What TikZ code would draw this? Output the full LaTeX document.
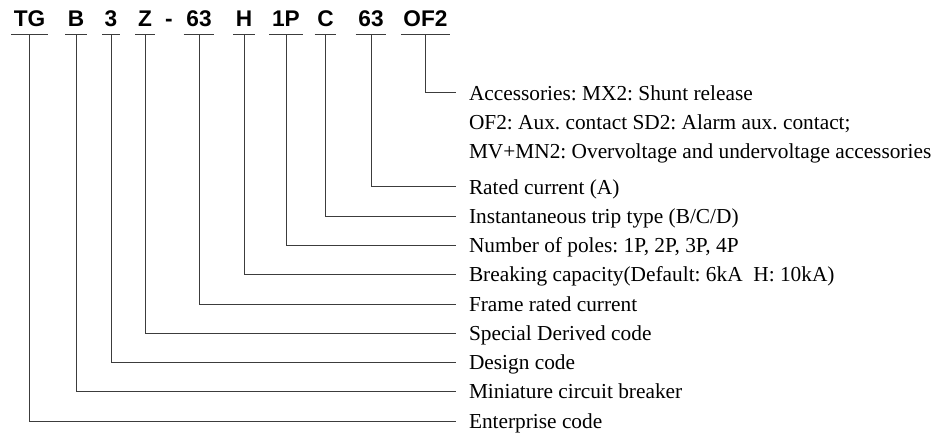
\documentclass[tikz,border=0pt]{standalone}
\usepackage{fontspec}
\setmainfont{Liberation Serif}
\newfontfamily\codefont{Liberation Sans}
\definecolor{linec}{RGB}{60,60,60}
\frenchspacing
\begin{document}
\begin{tikzpicture}[x=0.75pt,y=-0.75pt,
  codebox/.style={anchor=base,inner xsep=2pt,inner ysep=6pt,text depth=0pt,outer sep=0pt,
    font=\codefont\bfseries\fontsize{17pt}{20pt}\selectfont},
  labtext/.style={anchor=west,inner sep=0pt,outer sep=0pt,text height=10.6pt,text depth=0pt,
    font=\frenchspacing\fontsize{16pt}{19pt}\selectfont},
  conn/.style={draw=linec,line width=0.75pt},
  uline/.style={draw=linec,line width=0.75pt}]
\useasboundingbox (0,0) rectangle (944,434);
% code letters
\node[codebox] (tg) at (29.5,26.7) {TG};
\node[codebox] (b) at (76,26.7) {B};
\node[codebox] (three) at (111,26.7) {3};
\node[codebox] (z) at (145,26.7) {Z};
\node[codebox] (dash) at (169,26.7) {-};
\node[codebox] (f63) at (199,26.7) {63};
\node[codebox] (h) at (244,26.7) {H};
\node[codebox] (p1) at (286,26.7) {1P};
\node[codebox] (c) at (325.5,26.7) {C};
\node[codebox] (r63) at (371,26.7) {63};
\node[codebox] (of2) at (425.5,26.7) {OF2};
\foreach \n in {tg,b,three,z,f63,h,p1,c,r63,of2}
  \draw[uline] (\n.south west) -- (\n.south east);
% labels
\node[labtext] (acc1) at (469,93) {Accessories: MX2: Shunt release};
\node[labtext] (acc2) at (469,122) {OF2: Aux. contact SD2: Alarm aux. contact;};
\node[labtext] (acc3) at (469,151) {MV+MN2: Overvoltage and undervoltage accessories};
\node[labtext] (lr63) at (469,187) {Rated current (A)};
\node[labtext] (lc) at (469,216.25) {Instantaneous trip type (B/C/D)};
\node[labtext] (lp1) at (469,245.5) {Number of poles: 1P, 2P, 3P, 4P};
\node[labtext] (lh) at (469,274.75) {Breaking capacity(Default: 6kA\ \ H: 10kA)};
\node[labtext] (lf63) at (469,304) {Frame rated current};
\node[labtext] (lz) at (469,333.25) {Special Derived code};
\node[labtext] (lthree) at (469,362.5) {Design code};
\node[labtext] (lb) at (469,391.75) {Miniature circuit breaker};
\node[labtext] (ltg) at (469,421) {Enterprise code};
% connectors
\foreach \a/\l in {of2/acc1,r63/lr63,c/lc,p1/lp1,h/lh,f63/lf63,z/lz,three/lthree,b/lb,tg/ltg}
  \draw[conn] (\a.south) |- ([xshift=-9.75pt]\l.west);
\end{tikzpicture}
\end{document}
